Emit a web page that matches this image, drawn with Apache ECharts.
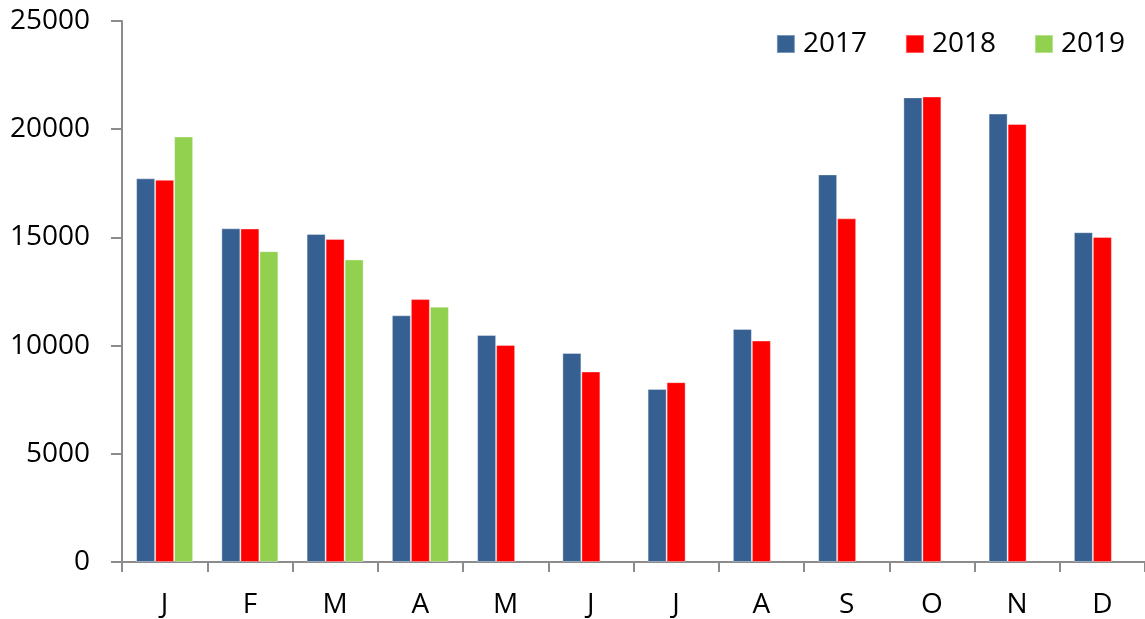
<!DOCTYPE html>
<html>
<head>
<meta charset="utf-8">
<script src="https://cdn.jsdelivr.net/npm/echarts@6/dist/echarts.min.js"></script>
<style>
  html, body { margin: 0; padding: 0; background: #fff; }
  #main { width: 1145px; height: 619px; }
</style>
</head>
<body>
<div id="main"></div>
<script>
var months = ["J", "F", "M", "A", "M", "J", "J", "A", "S", "O", "N", "D"];
var years = ["2017", "2018", "2019"];
var values2017 = [17730, 15420, 15160, 11400, 10490, 9660, 8000, 10770, 17910, 21470, 20720, 15240];
var values2018 = [17660, 15410, 14930, 12150, 10030, 8800, 8310, 10230, 15880, 21510, 20240, 15020];
var values2019 = [19660, 14360, 13980, 11800, null, null, null, null, null, null, null, null];
var yTicks = [0, 5000, 10000, 15000, 20000, 25000];

var colors = ["#376092", "#ff0000", "#92d050"];
var fontFamily = "'Open Sans', sans-serif";

var chartDom = document.getElementById("main");
var myChart = echarts.init(chartDom);

function barSeries(name, data, color) {
  return {
    name: name,
    type: "bar",
    data: data,
    barWidth: 19,
    barGap: "0%",
    itemStyle: {
      color: color,
      borderColor: "rgba(255,255,255,0.35)",
      borderWidth: 1
    },
    animation: false
  };
}

var option = {
  backgroundColor: "#ffffff",
  color: colors,
  textStyle: { fontFamily: fontFamily },
  legend: {
    data: years,
    right: 15,
    top: 25,
    itemWidth: 18,
    itemHeight: 18,
    itemGap: 38,
    icon: "rect",
    textStyle: {
      fontFamily: fontFamily,
      fontSize: 28,
      color: "#000",
      padding: [0, 0, 0, 3]
    }
  },
  grid: {
    left: 122,
    top: 21,
    width: 1028,
    height: 542
  },
  xAxis: {
    type: "category",
    data: months,
    axisLine: { lineStyle: { color: "#8c8c8c", width: 2 } },
    axisTick: { show: true, length: 10, interval: 0, lineStyle: { color: "#8c8c8c", width: 2 } },
    axisLabel: { color: "#000", fontSize: 28, fontFamily: fontFamily, margin: 29, interval: 0 },
    splitLine: { show: false }
  },
  yAxis: {
    type: "value",
    min: yTicks[0],
    max: yTicks[yTicks.length - 1],
    interval: 5000,
    axisLine: { show: true, lineStyle: { color: "#8c8c8c", width: 2 } },
    axisTick: { show: true, length: 11, lineStyle: { color: "#8c8c8c", width: 2 } },
    axisLabel: {
      color: "#000",
      fontSize: 28,
      fontFamily: fontFamily,
      margin: 32,
      formatter: function (v) { return String(v); }
    },
    splitLine: { show: false }
  },
  series: [
    barSeries(years[0], values2017, colors[0]),
    barSeries(years[1], values2018, colors[1]),
    barSeries(years[2], values2019, colors[2])
  ]
};

myChart.setOption(option);
</script>
</body>
</html>
